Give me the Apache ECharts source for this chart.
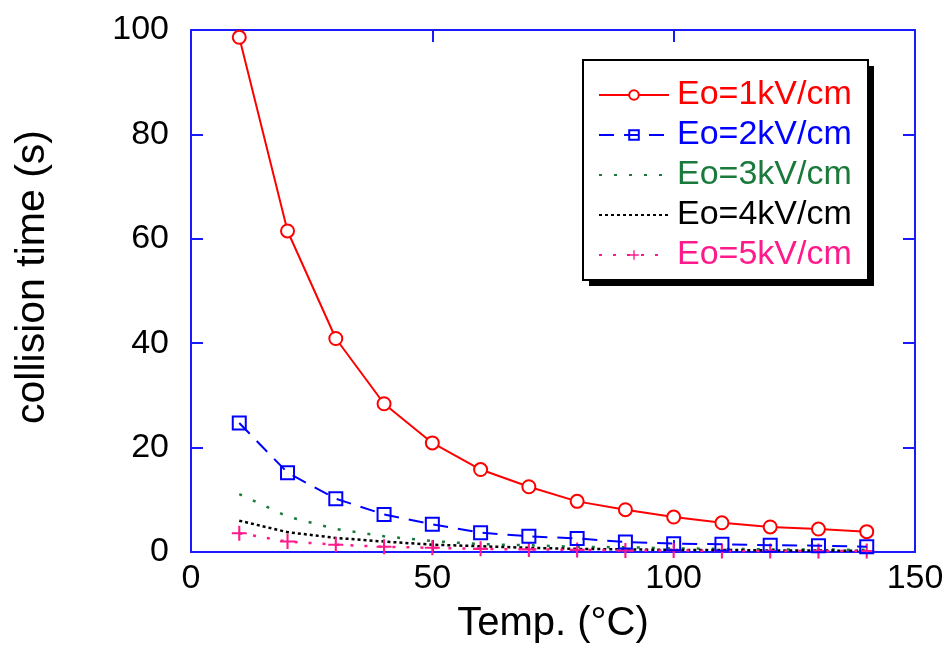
<!DOCTYPE html>
<html><head><meta charset="utf-8">
<script src="https://cdn.jsdelivr.net/npm/echarts@6/dist/echarts.min.js"></script>
<style>html,body{margin:0;padding:0;background:#fff}#c{width:950px;height:649px}</style>
</head><body><div id="c"></div>
<script>
const temps = [10, 20, 30, 40, 50, 60, 70, 80, 90, 100, 110, 120, 130, 140];
const e1 = [98.6, 61.5, 40.9, 28.4, 20.9, 15.8, 12.5, 9.7, 8.1, 6.7, 5.6, 4.8, 4.4, 3.9];
const e2 = [24.7, 15.2, 10.2, 7.2, 5.3, 3.7, 3.0, 2.6, 1.9, 1.6, 1.5, 1.3, 1.2, 1.0];
const e3 = [11.1, 6.8, 4.4, 3.0, 2.1, 1.5, 1.3, 1.0, 0.9, 0.7, 0.6, 0.5, 0.5, 0.4];
const e4 = [6.0, 3.8, 2.7, 2.0, 1.4, 1.1, 0.8, 0.6, 0.5, 0.4, 0.4, 0.3, 0.3, 0.2];
const e5 = [3.6, 2.0, 1.4, 1.0, 0.8, 0.6, 0.5, 0.4, 0.3, 0.3, 0.2, 0.2, 0.2, 0.2];
const names = ['Eo=1kV/cm', 'Eo=2kV/cm', 'Eo=3kV/cm', 'Eo=4kV/cm', 'Eo=5kV/cm'];
const xTicks = {min: 0, max: 150, interval: 50};
const yTicks = {min: 0, max: 100, interval: 20};

const colors = ['#ff0000', '#0000ff', '#1b7a3b', '#000000', '#ff1a8c'];
const FONT = 'Liberation Sans, Arial, sans-serif';
const plus = 'path://M4.3,0h1.4v4.3h4.3v1.4h-4.3v4.3h-1.4v-4.3h-4.3v-1.4h4.3z';
const pair = arr => temps.map((t, i) => [t, arr[i]]);
const axisBlue = '#1a1aff';

function xAx(pos, show) {
  return {type: 'value', min: xTicks.min, max: xTicks.max, interval: xTicks.interval, position: pos,
    axisLine: {show: true, onZero: false, lineStyle: {color: axisBlue, width: 2}},
    axisTick: {show: true, inside: true, length: 12, lineStyle: {color: axisBlue, width: 2}},
    splitLine: {show: false},
    axisLabel: {show: show, color: '#000', fontFamily: FONT, fontSize: 34, margin: 10},
    name: show ? 'Temp. (°C)' : '', nameLocation: 'middle', nameGap: 52,
    nameTextStyle: {color: '#000', fontFamily: FONT, fontSize: 40}};
}
function yAx(pos, show) {
  return {type: 'value', min: yTicks.min, max: yTicks.max, interval: yTicks.interval, position: pos,
    axisLine: {show: true, onZero: false, lineStyle: {color: axisBlue, width: 2}},
    axisTick: {show: true, inside: true, length: 12, lineStyle: {color: axisBlue, width: 2}},
    splitLine: {show: false},
    axisLabel: {show: show, color: '#000', fontFamily: FONT, fontSize: 34, margin: 22},
    name: show ? 'collision time (s)' : '', nameLocation: 'middle', nameGap: 138, nameRotate: 90,
    nameTextStyle: {color: '#000', fontFamily: FONT, fontSize: 41, padding: [0, 0, 0, 28]}};
}

const chart = echarts.init(document.getElementById('c'), null, {renderer: 'canvas'});
chart.setOption({
  animation: false,
  backgroundColor: '#fff',
  grid: {left: 191, right: 35, top: 30, bottom: 95, containLabel: false},
  xAxis: [xAx('bottom', true), xAx('top', false)],
  yAxis: [yAx('left', true), yAx('right', false)],
  graphic: [
    {type: 'rect', shape: {x: 589, y: 66, width: 285, height: 220}, style: {fill: '#000'}, z: 50},
    {type: 'rect', shape: {x: 583, y: 60, width: 285, height: 220}, style: {fill: '#fff', stroke: '#000', lineWidth: 2}, z: 51}
  ],
  legend: {
    orient: 'vertical', left: 583, top: 60, z: 60,
    padding: [15, 12, 10, 15], itemWidth: 70, itemHeight: 12, itemGap: 0,
    textStyle: {fontFamily: FONT, fontSize: 34, lineHeight: 40, padding: [0, 0, 0, 3]},
    data: names.map((n, i) => {
      const d = {name: n, textStyle: {color: colors[i]}};
      if (i === 2 || i === 3) d.itemStyle = {opacity: 0};
      return d;
    })
  },
  series: [
    {name: names[0], type: 'line', data: pair(e1), color: colors[0], symbol: 'circle', symbolSize: 13,
      itemStyle: {color: '#fff', borderColor: colors[0], borderWidth: 2},
      lineStyle: {color: colors[0], width: 2}, z: 6},
    {name: names[1], type: 'line', data: pair(e2), color: colors[1], symbol: 'rect', symbolSize: 13,
      itemStyle: {color: 'rgba(255,255,255,0)', borderColor: colors[1], borderWidth: 2},
      lineStyle: {color: colors[1], width: 2, type: [15, 10]}, z: 5},
    {name: names[2], type: 'line', data: pair(e3), color: colors[2], symbol: 'none', showSymbol: false,
      lineStyle: {color: colors[2], width: 2.5, type: [3, 12]}, z: 3},
    {name: names[3], type: 'line', data: pair(e4), color: colors[3], symbol: 'none', showSymbol: false,
      lineStyle: {color: colors[3], width: 2.5, type: [3, 3]}, z: 3},
    {name: names[4], type: 'line', data: pair(e5), color: colors[4], symbol: plus, symbolSize: 15,
      itemStyle: {color: colors[4], borderWidth: 0},
      lineStyle: {color: colors[4], width: 2.5, type: [3, 11]}, z: 4}
  ]
});
</script></body></html>
